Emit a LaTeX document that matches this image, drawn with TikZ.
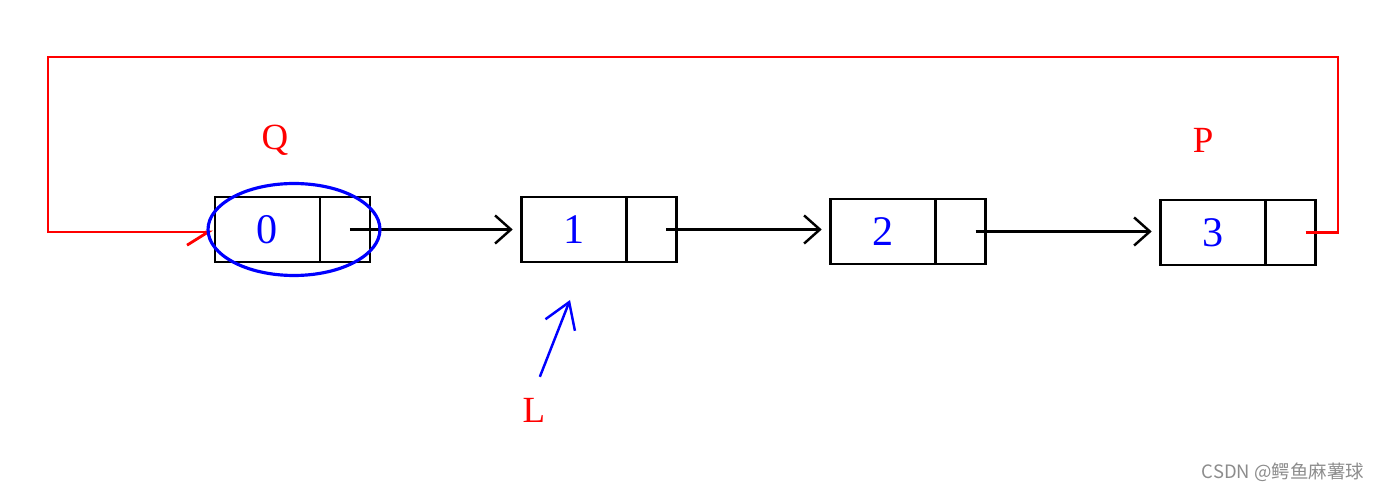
\documentclass[tikz,border=0pt]{standalone}
\usepackage{fontspec}
\setmainfont{Liberation Serif}
\newfontfamily\cjkfont{Noto Sans CJK SC}
\usepackage{tikz}
\usetikzlibrary{positioning,arrows.meta,shapes.geometric}
\newcommand{\boxh}{1.3cm}

\begin{document}
\begin{tikzpicture}[x=0.02cm,y=-0.02cm,
    datapart/.style={draw, line width=1.6pt, outer sep=0pt, minimum width=2.1cm, minimum height=\boxh, font=\fontsize{24}{28}\selectfont, text=blue},
    ptrpart/.style={draw, line width=1.6pt, outer sep=0pt, minimum width=1cm, minimum height=\boxh},
    link/.style={line width=1.4pt, -{Straight Barb[length=9pt,width=16pt]}, shorten >=5pt},
    varname/.style={text=red, font=\fontsize{21}{25}\selectfont}]
        \useasboundingbox (0,0) rectangle (1381,492);
        \node (d0) at (267.5,229.5) [datapart] {0};
        \node (p0) [ptrpart, right=0pt of d0] {};
        \node (d1) at (574,229.5) [datapart] {1};
        \node (p1) [ptrpart, right=0pt of d1] {};
        \node (d2) at (883,231.5) [datapart] {2};
        \node (p2) [ptrpart, right=0pt of d2] {};
        \node (d3) at (1213,232.5) [datapart] {3};
        \node (p3) [ptrpart, right=0pt of d3] {};
        \draw[link] ([xshift=0.1cm]p0.center) -- (d1.west);
        \draw[link] ([xshift=0.3cm]p1.center) -- (d2.west |- p1.center);
        \draw[link] ([xshift=0.3cm]p2.center) -- (d3.west |- p2.center);

        % pointer of the last node back to the first
        \coordinate (rtop) at (1338,57);
        \coordinate (ltop) at (48,57);
        \draw[red, line width=1.6pt, -{Straight Barb[right,length=12pt,width=15pt]}]
        ([xshift=0.3cm]p3.center) -| (rtop) -- (ltop) |- ([xshift=-0.04cm,yshift=-0.05cm]d0.west);

        \node (ring) at (294,229.5) [draw=blue, line width=1.8pt, ellipse, minimum width=3.44cm, minimum height=1.84cm] {};

        \node (Q) at (275,140) [varname] {Q};
        \node (P) at (1203,140) [varname] {P};
        \node (L) at (534,410) [varname] {L};
        \coordinate (lend) at (570,300);
        \draw[blue, line width=1.4pt, shorten <=0.32cm, -{Straight Barb[length=14pt,width=18pt]}] (L.north) -- (lend);

        \node (mark) at (1283,472) [text=black!45, font=\cjkfont\fontsize{10.5}{12}\selectfont] {CSDN @鳄鱼麻薯球};
\end{tikzpicture}
\end{document}
